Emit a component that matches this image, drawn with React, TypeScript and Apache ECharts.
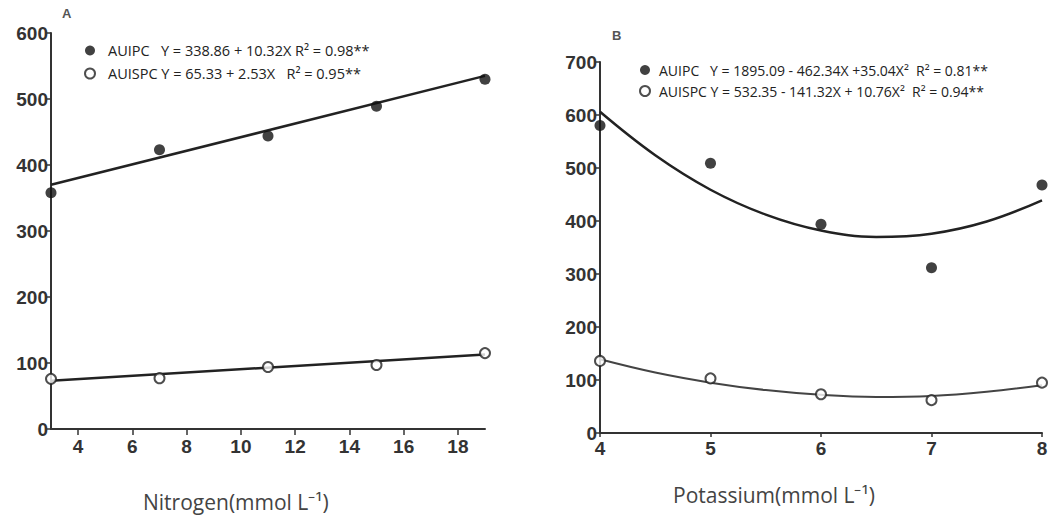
import React, { useEffect, useRef } from "react";
import * as echarts from "echarts";

// Panel A – Nitrogen
const nitrogenX = [3, 7, 11, 15, 19];
const nitrogenAUIPC = [358, 423, 444, 489, 530];
const nitrogenAUISPC = [76, 77, 94, 97, 115];
const nitrogenFitX = [3, 19];
const nitrogenFitAUIPC = [370, 535];
const nitrogenFitAUISPC = [73, 113];
const nitrogenTicks = [4, 6, 8, 10, 12, 14, 16, 18];

// Panel B – Potassium
const potassiumX = [4, 5, 6, 7, 8];
const potassiumAUIPC = [580, 509, 394, 312, 468];
const potassiumAUISPC = [136, 103, 73, 62, 95];
const potassiumFitX = [4, 4.5, 5, 5.5, 6, 6.5, 7, 7.5, 8];
const potassiumFitAUIPC = [606, 524, 459, 412, 382, 370, 376, 399, 439];
const potassiumFitAUISPC = [139, 114, 95, 81, 72, 68, 70, 78, 90];

const legendTexts: Record<string, string> = {
  "AUIPC A": "AUIPC   Y = 338.86 + 10.32X R² = 0.98**",
  "AUISPC A": "AUISPC Y = 65.33 + 2.53X   R² = 0.95**",
  "AUIPC B": "AUIPC   Y = 1895.09 - 462.34X +35.04X²  R² = 0.81**",
  "AUISPC B": "AUISPC Y = 532.35 - 141.32X + 10.76X²  R² = 0.94**",
};

const zip = (xs: number[], ys: number[]) => xs.map((x, i) => [x, ys[i]]);

const axisColor = "#333";
const tickFont = {
  color: "#333",
  fontFamily: "Liberation Sans, Arial, sans-serif",
  fontWeight: "bold" as const,
  fontSize: 19,
};

export default function App() {
  const ref = useRef<HTMLDivElement>(null);
  useEffect(() => {
    document.body.style.margin = "0";
    const chart = echarts.init(ref.current!, null, { renderer: "svg" });
    const yAxisBase = {
      type: "value" as const,
      axisLine: { show: true, lineStyle: { color: axisColor, width: 2 } },
      axisTick: { show: true, length: 5, lineStyle: { color: axisColor, width: 1.5 } },
      axisLabel: { ...tickFont, margin: 3 },
      splitLine: { show: false },
    };
    const filled = {
      type: "scatter" as const,
      symbol: "circle",
      symbolSize: 11,
      itemStyle: { color: "#111" },
      z: 5,
    };
    const hollow = {
      type: "scatter" as const,
      symbol: "circle",
      symbolSize: 10,
      itemStyle: { color: "#fff", borderColor: "#222", borderWidth: 2 },
      z: 5,
    };
    const legendBase = {
      orient: "vertical" as const,
      icon: "circle",
      itemWidth: 10,
      itemHeight: 10,
      selectedMode: false,
      formatter: (n: string) => legendTexts[n],
    };
    const legendText = (size: number, pad: number) => ({
      fontFamily: "Open Sans, sans-serif",
      fontSize: size,
      color: "#222",
      lineHeight: 14,
      padding: [0, 0, 0, pad],
    });
    const titleStyle = { fontFamily: "Open Sans, sans-serif", fontSize: 21, fill: "#444" };
    chart.setOption({
      animation: false,
      grid: [
        { left: 51, top: 33, width: 434, height: 396, outerBoundsMode: "none" },
        { left: 600, top: 62, width: 442, height: 371, outerBoundsMode: "none" },
      ],
      xAxis: [
        {
          gridIndex: 0,
          type: "value",
          min: 3,
          max: 19,
          axisLine: { show: true, onZero: false, lineStyle: { color: axisColor, width: 2 } },
          axisTick: { show: true, length: 6, customValues: nitrogenTicks, lineStyle: { color: axisColor, width: 1.5 } },
          axisLabel: { ...tickFont, margin: 8, customValues: nitrogenTicks },
          splitLine: { show: false },
        },
        {
          gridIndex: 1,
          type: "value",
          min: 4,
          max: 8,
          interval: 1,
          axisLine: { show: true, onZero: false, lineStyle: { color: axisColor, width: 2 } },
          axisTick: { show: true, length: 4, lineStyle: { color: axisColor, width: 1.5 } },
          axisLabel: { ...tickFont, margin: 6 },
          splitLine: { show: false },
        },
      ],
      yAxis: [
        { ...yAxisBase, gridIndex: 0, min: 0, max: 600, interval: 100 },
        { ...yAxisBase, gridIndex: 1, min: 0, max: 700, interval: 100 },
      ],
      legend: [
        { ...legendBase, left: 79, top: 38, itemGap: 8, textStyle: legendText(14.5, 8), data: ["AUIPC A", "AUISPC A"] },
        { ...legendBase, left: 634, top: 58, itemGap: 7, textStyle: legendText(14, 4), data: ["AUIPC B", "AUISPC B"] },
      ],
      graphic: [
        { type: "text", left: 62, top: 7, style: { text: "A", fontSize: 13, fontWeight: "bold", fill: "#555", fontFamily: "Liberation Sans, Arial" } },
        { type: "text", left: 612, top: 29, style: { text: "B", fontSize: 13, fontWeight: "bold", fill: "#555", fontFamily: "Liberation Sans, Arial" } },
        { type: "text", left: 143, top: 491, style: { ...titleStyle, text: "Nitrogen(mmol L⁻¹)" } },
        { type: "text", left: 673, top: 484, style: { ...titleStyle, text: "Potassium(mmol L⁻¹)" } },
      ],
      series: [
        {
          name: "fitA1", type: "line", xAxisIndex: 0, yAxisIndex: 0, showSymbol: false,
          data: zip(nitrogenFitX, nitrogenFitAUIPC), lineStyle: { color: "#222", width: 2.5 },
        },
        {
          name: "fitA2", type: "line", xAxisIndex: 0, yAxisIndex: 0, showSymbol: false,
          data: zip(nitrogenFitX, nitrogenFitAUISPC), lineStyle: { color: "#222", width: 2.5 },
        },
        { ...filled, name: "AUIPC A", xAxisIndex: 0, yAxisIndex: 0, data: zip(nitrogenX, nitrogenAUIPC) },
        { ...hollow, name: "AUISPC A", xAxisIndex: 0, yAxisIndex: 0, data: zip(nitrogenX, nitrogenAUISPC) },
        {
          name: "fitB1", type: "line", xAxisIndex: 1, yAxisIndex: 1, showSymbol: false, smooth: 0.4,
          data: zip(potassiumFitX, potassiumFitAUIPC), lineStyle: { color: "#222", width: 2.5 },
        },
        {
          name: "fitB2", type: "line", xAxisIndex: 1, yAxisIndex: 1, showSymbol: false, smooth: 0.4,
          data: zip(potassiumFitX, potassiumFitAUISPC), lineStyle: { color: "#444", width: 2 },
        },
        { ...filled, name: "AUIPC B", xAxisIndex: 1, yAxisIndex: 1, data: zip(potassiumX, potassiumAUIPC) },
        { ...hollow, name: "AUISPC B", xAxisIndex: 1, yAxisIndex: 1, data: zip(potassiumX, potassiumAUISPC) },
      ],
    });
    return () => chart.dispose();
  }, []);
  return <div ref={ref} style={{ width: 1061, height: 519 }} />;
}
